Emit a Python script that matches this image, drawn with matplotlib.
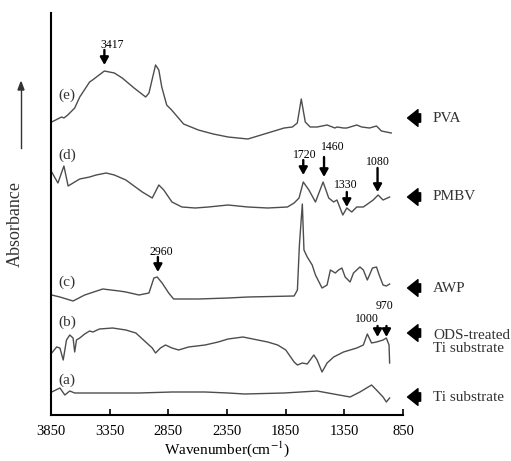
import matplotlib.pyplot as plt

plt.rcParams['font.family'] = ['Liberation Serif', 'DejaVu Serif']
plt.rcParams['mathtext.fontset'] = 'stix'

# спектры (волновое число, поглощение в условных единицах со смещением)
pva_wn = [3844, 3760, 3740, 3707, 3648, 3605, 3521, 3496, 3395, 3310, 3243, 3142, 3043, 3015,
          2959, 2931, 2906, 2864, 2822, 2720, 2594, 2467, 2341, 2172, 1863, 1793, 1751, 1717,
          1683, 1641, 1582, 1497, 1430, 1413, 1357, 1329, 1244, 1202, 1135, 1076, 1034, 992, 950]
pva_abs = [293, 298, 297, 300, 307, 318, 333, 335, 344, 342, 337, 327, 318, 322,
           350, 345, 328, 310, 305, 291, 285, 281, 278, 276, 287, 288, 292, 316,
           293, 288, 288, 290, 287, 288, 287, 287, 290, 288, 287, 289, 284, 283, 282]

pmbv_wn = [3844, 3825, 3791, 3740, 3704, 3648, 3605, 3521, 3465, 3380, 3310, 3212, 3142, 3072,
           2987, 2931, 2889, 2819, 2734, 2621, 2509, 2341, 2172, 2003, 1835, 1778, 1736, 1700,
           1652, 1596, 1531, 1483, 1441, 1413, 1363, 1329, 1287, 1244, 1188, 1104, 1062, 1020, 964]
pmbv_abs = [243, 239, 232, 249, 229, 233, 236, 238, 240, 242, 240, 235, 229, 223,
            217, 230, 225, 213, 208, 207, 208, 210, 208, 207, 208, 212, 217, 233,
            225, 213, 233, 217, 213, 215, 200, 207, 203, 208, 208, 215, 220, 215, 218]

awp_wn = [3844, 3774, 3662, 3563, 3409, 3268, 3212, 3100, 3015, 2973, 2945, 2903, 2847, 2805,
          2594, 2341, 2172, 1778, 1750, 1733, 1708, 1694, 1666, 1624, 1596, 1540, 1497, 1469,
          1427, 1399, 1371, 1343, 1301, 1272, 1217, 1188, 1154, 1110, 1076, 1053, 1020, 992, 964]
awp_abs = [120, 118, 114, 120, 126, 124, 123, 120, 122, 137, 138, 132, 122, 116,
           116, 117, 118, 119, 125, 170, 211, 165, 158, 150, 140, 127, 130, 145,
           142, 145, 147, 138, 133, 142, 148, 145, 135, 147, 148, 140, 130, 129, 131]

ods_wn = [3844, 3802, 3774, 3746, 3718, 3690, 3662, 3648, 3633, 3605, 3563, 3521, 3493, 3437,
          3325, 3212, 3127, 3043, 2987, 2959, 2917, 2874, 2819, 2762, 2678, 2537, 2425, 2341,
          2214, 2003, 1918, 1849, 1778, 1750, 1708, 1666, 1610, 1582, 1540, 1497, 1441, 1357,
          1244, 1188, 1154, 1118, 1076, 1020, 992, 969, 964]
ods_abs = [62, 68, 67, 55, 75, 80, 77, 63, 75, 77, 81, 84, 83, 86,
           87, 85, 82, 73, 67, 62, 67, 70, 67, 65, 68, 70, 73, 76,
           78, 73, 70, 65, 53, 50, 52, 51, 60, 55, 43, 52, 58, 63,
           67, 70, 81, 72, 73, 75, 77, 70, 52]

ti_wn = [3844, 3774, 3732, 3690, 3648, 3578, 3380, 3100, 2819, 2537, 2341, 2200, 1863, 1582,
         1301, 1217, 1118, 1076, 1020, 992, 964]
ti_abs = [23, 27, 20, 24, 22, 22, 22, 22, 23, 23, 22, 21, 22, 24,
          18, 23, 30, 25, 18, 13, 17]

curve_tags = ['(e)', '(d)', '(c)', '(b)', '(a)']
tag_y = [320, 260, 133, 93, 35]
names = ['PVA', 'PMBV', 'AWP', 'ODS-treated\nTi substrate', 'Ti substrate']
name_y = [297, 218, 127, 82, 18]

# отмеченные пики: подпись, x стрелки, x текста, y текста, y начала и конца стрелки
peak_labels = ['3417', '2960', '1720', '1460', '1330', '1080', '1000', '970']
peak_x = [3395, 2939, 1700, 1523, 1329, 1067, 1067, 991]
peak_text_x = [3330, 2906, 1687, 1451, 1341, 1067, 1156, 1008]
peak_text_y = [370, 163, 260, 268, 230, 253, 96, 109]
peak_y0 = [365, 158, 255, 258, 223, 247, 89, 89]
peak_y1 = [350, 143, 240, 238, 208, 223, 78, 78]

fig = plt.figure(figsize=(5.11, 4.61), dpi=100)
ax = fig.add_axes([51/511, 46/461, 352/511, 402/461])

col = '#4d4d4d'
for wn, ab in [(pva_wn, pva_abs), (pmbv_wn, pmbv_abs), (awp_wn, awp_abs),
               (ods_wn, ods_abs), (ti_wn, ti_abs)]:
    ax.plot(wn, ab, color=col, lw=1.0)

ax.set_xlim(3850, 850)
ax.set_ylim(0, 402)
ax.set_xticks([3850, 3350, 2850, 2350, 1850, 1350, 850])
ax.set_yticks([])
ax.tick_params(axis='x', direction='in', length=4, width=1.2, labelsize=10.5, pad=7)
for s in ['top', 'right']:
    ax.spines[s].set_visible(False)
ax.spines['left'].set_linewidth(1.5)
ax.spines['bottom'].set_linewidth(1.5)
ax.set_xlabel('Wavenumber(cm$^{-1}$)', fontsize=11, labelpad=1)

for t, y in zip(curve_tags, tag_y):
    ax.text(3715, y, t, fontsize=11, ha='center', va='center', color='#333333')

# стрелки к названиям справа
for n, y in zip(names, name_y):
    ax.annotate('', xy=(1.005, y), xytext=(1.058, y), xycoords=('axes fraction', 'data'),
                textcoords=('axes fraction', 'data'), annotation_clip=False,
                arrowprops=dict(arrowstyle='simple,head_width=1.2,head_length=0.75,tail_width=0.6',
                                color='black'))
    yy = y - 9 if '\n' in n else y
    ax.text(1.085, yy, n, transform=ax.get_yaxis_transform(), fontsize=11,
            ha='left', va='center', color='#333333', linespacing=1.05)

for lab, x, tx, ty, y0, y1 in zip(peak_labels, peak_x, peak_text_x, peak_text_y, peak_y0, peak_y1):
    ax.text(tx, ty, lab, fontsize=8.5, ha='center', va='center')
    ax.annotate('', xy=(x, y1), xytext=(x, y0),
                arrowprops=dict(arrowstyle='-|>,head_width=0.25,head_length=0.45',
                                lw=1.7, color='black', shrinkA=0, shrinkB=0))

# подпись оси Y со стрелкой
fig.text(15/511, 1 - 224/461, 'Absorbance', rotation=90, fontsize=13, ha='center', va='center',
         color='#333333')
fig.add_artist(plt.Line2D([21/511, 21/511], [1 - 148/461, 1 - 90/461], color='#333333', lw=1.0))
fig.patches.append(plt.Polygon([[18/511, 1 - 90/461], [24/511, 1 - 90/461], [21/511, 1 - 82/461]],
                               closed=True, color='#333333', transform=fig.transFigure))

fig.savefig('out.png', dpi=100)
